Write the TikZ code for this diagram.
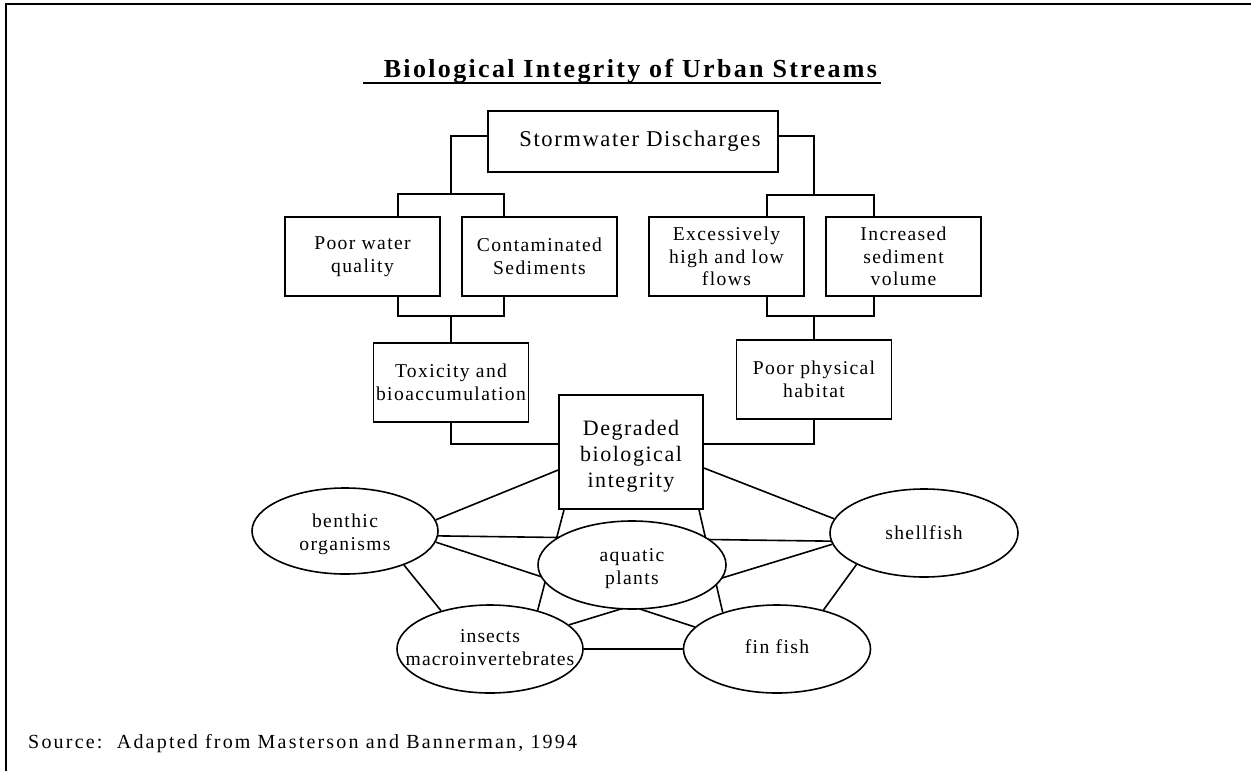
\documentclass[tikz,border=0pt]{standalone}
\usepackage{fontspec}
\setmainfont{Liberation Serif}[LetterSpace=7]
\newfontfamily\titlefont{Liberation Serif}[LetterSpace=9]
\newfontfamily\srcfont{Liberation Serif}[LetterSpace=11]
\newfontfamily\tightfont{Liberation Serif}[LetterSpace=5.5]
\usetikzlibrary{shapes.geometric,calc}
\pgfdeclarelayer{bg}
\pgfsetlayers{bg,main}
\newcommand{\ltxt}[2][0pt]{\makebox[0pt]{\begin{tabular}{@{}c@{}}\rule{0pt}{\dimexpr16.1pt+#1\relax}#2\end{tabular}}}
\begin{document}
\begin{tikzpicture}[x=1pt,y=-1pt,line width=1.6pt,
  box/.style={draw,rectangle,align=center,inner sep=0pt,minimum width=155pt,minimum height=79pt,font=\fontsize{19.6}{23}\selectfont},
  ell/.style={draw,ellipse,fill=white,inner sep=0pt,minimum height=88pt,font=\fontsize{19.6}{23}\selectfont},
  link/.style={line width=1.6pt}]
\useasboundingbox (0,0) rectangle (1251,771);
% frame
\draw[line width=2pt] (6,771) -- (6,4) -- (1251,4);
% title
\node[anchor=base west,inner sep=0pt,font=\titlefont\bfseries\fontsize{26}{30}\selectfont] (title) at (383,77) {Biological Integrity of Urban Streams};
\draw[line width=2pt] ([xshift=-20pt,yshift=-6pt]title.base west) -- ([xshift=3pt,yshift=-6pt]title.base east);
% boxes
\node[draw,rectangle,inner sep=0pt,minimum width=290pt,minimum height=61pt,font=\fontsize{22.6}{26}\selectfont] (storm) at (633,141.5) {\hspace*{14pt}Stormwater Discharges};
\node[box] (pw) at (362.5,256.5) {Poor water\\quality};
\node[box] (cs) at (539.5,256.5) {Contaminated\\Sediments};
\node[box,font=\fontsize{19.6}{22.5}\selectfont] (ex) at (726.5,256.5) {Excessively\\high and low\\flows};
\node[box,font=\fontsize{19.6}{22.5}\selectfont] (inc) at (903.5,256.5) {Increased\\sediment\\volume};
\node[box] (tox) at (451,382.5) {Toxicity and\\bioaccumulation};
\node[box] (pph) at (814,379.5) {Poor physical\\habitat};
\node[draw,rectangle,inner sep=0pt,minimum width=144pt,minimum height=114pt,font=\fontsize{22}{26}\selectfont] (deg) at (631,452) {\begin{tabular}{@{}c@{}}\rule{0pt}{26.2pt}Degraded\\biological\\integrity\end{tabular}};
% tree connectors
\coordinate (lj) at (451,194);
\coordinate (lb) at (451,316);
\coordinate (rj) at (814,195);
\coordinate (rb) at (814,316);
\draw ([yshift=5.5pt]storm.west) -| (lj);
\draw ([xshift=35.5pt]pw.north) |- (lj) -| ([xshift=-35.5pt]cs.north);
\draw ([xshift=35.5pt]pw.south) |- (lb) -| ([xshift=-35.5pt]cs.south);
\draw (lb) -- (tox.north);
\draw (tox.south) |- ([yshift=8pt]deg.west);
\draw ([yshift=5.5pt]storm.east) -| (rj);
\draw ([xshift=40.5pt]ex.north) |- (rj) -| ([xshift=-29.5pt]inc.north);
\draw ([xshift=40.5pt]ex.south) |- (rb) -| ([xshift=-29.5pt]inc.south);
\draw (rb) -- (pph.north);
\draw (pph.south) |- ([yshift=8pt]deg.east);
% ellipses
\node[ell,minimum width=186pt,minimum height=86pt] (ben) at (345,531) {\ltxt[6pt]{benthic\\organisms}};
\node[ell,minimum width=188pt] (aq) at (632,565) {\ltxt[6pt]{aquatic\\plants}};
\node[ell,minimum width=188pt] (sh) at (924,533) {\ltxt[4pt]{shellfish}};
\node[ell,minimum width=186pt,font=\tightfont\fontsize{19.6}{23}\selectfont] (ins) at (490,649) {\ltxt{insects\\macroinvertebrates}};
\node[ell,minimum width=187pt] (fin) at (777,649) {\ltxt{fin fish}};
\begin{pgfonlayer}{bg}
\draw[link] ([yshift=-18pt]deg.west) -- (ben.7.6);
\draw[link] ([yshift=-16pt]deg.east) -- (sh.171.8);
\draw[link] ([xshift=-67pt]deg.south) -- (ins.39.7);
\draw[link] ([xshift=68pt]deg.south) -- (fin.146);
\draw[link] (ben.-3.7) -- (sh.-175);
\draw[link] (ben.-7.4) -- (fin.165.3);
\draw[link] (ben.-30.3) -- (ins.142.4);
\draw[link] (sh.-173.3) -- (ins.17.8);
\draw[link] (sh.205.2) -- (fin.40.5);
\draw[link] (ins.east) -- (fin.west);
\end{pgfonlayer}
% source
\node[anchor=base west,inner sep=0pt,font=\srcfont\fontsize{20}{23}\selectfont] (src) at (28,748) {Source:\ \ Adapted from Masterson and Bannerman, 1994};
\end{tikzpicture}
\end{document}
